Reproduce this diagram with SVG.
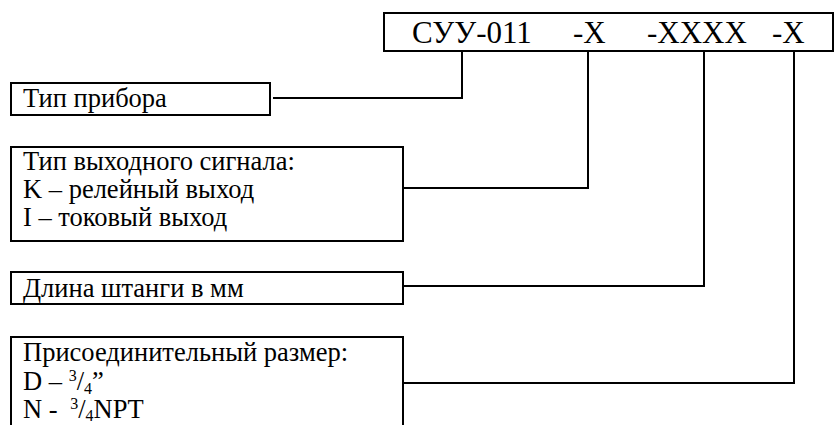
<svg xmlns="http://www.w3.org/2000/svg" width="834" height="425" viewBox="0 0 834 425">
<style>
.box{fill:none;stroke:#000;stroke-width:2}
.con{fill:none;stroke:#000;stroke-width:2}
.t{font-family:"Liberation Serif","Times New Roman",serif;font-size:26.5px;fill:#000}
.h{font-family:"Liberation Serif","Times New Roman",serif;font-size:31px;fill:#000}
.sm{font-size:16px}
</style>
<rect width="834" height="425" fill="#fff"/>
<g id="code">
<rect class="box" x="384" y="13" width="449" height="38"/>
<text class="h" x="412" y="43">СУУ-011</text>
<text class="h" x="573" y="43">-X</text>
<text class="h" x="647" y="43">-XXXX</text>
<text class="h" x="772" y="43">-X</text>
</g>
<g id="type">
<rect class="box" x="11" y="83" width="259" height="32"/>
<text class="t" x="23" y="107">Тип прибора</text>
</g>
<g id="signal">
<rect class="box" x="11" y="147" width="392" height="94"/>
<text class="t" x="23" y="170">Тип выходного сигнала:</text>
<text class="t" x="23" y="198">K – релейный выход</text>
<text class="t" x="23" y="226">I – токовый выход</text>
</g>
<g id="length">
<rect class="box" x="11" y="272" width="392" height="32"/>
<text class="t" x="23" y="297">Длина штанги в мм</text>
</g>
<g id="size">
<rect class="box" x="11" y="337" width="392" height="100"/>
<text class="t" x="23" y="361">Присоединительный размер:</text>
<text class="t" x="23" y="390">D – <tspan class="sm" dy="-9">3</tspan><tspan dy="9">/</tspan><tspan class="sm" dy="4">4</tspan><tspan dy="-4">”</tspan></text>
<text class="t" x="23" y="418">N - <tspan class="sm" dx="6" dy="-9">3</tspan><tspan dy="9">/</tspan><tspan class="sm" dy="3">4</tspan><tspan dy="-3">NPT</tspan></text>
</g>
<g id="connectors">
<polyline class="con" points="273,98 462,98 462,51"/>
<polyline class="con" points="403,188 588,188 588,51"/>
<polyline class="con" points="403,286 704,286 704,51"/>
<polyline class="con" points="403,383 794,383 794,51"/>
</g>
</svg>
